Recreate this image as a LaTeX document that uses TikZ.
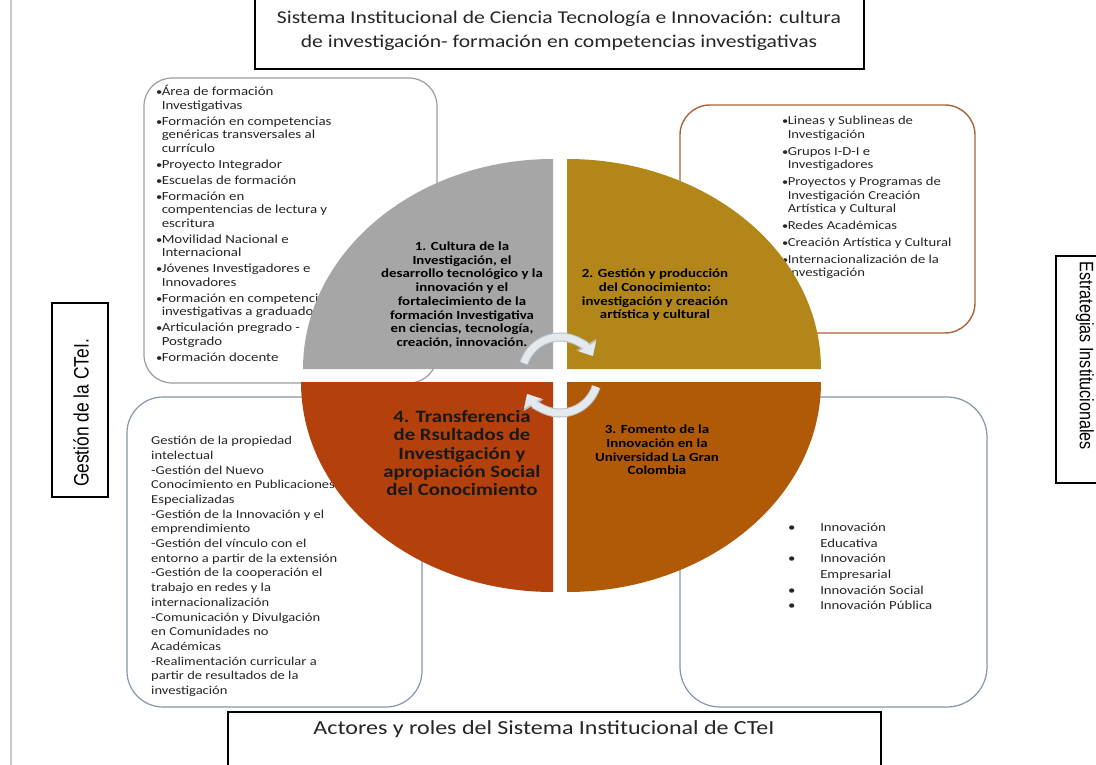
\documentclass[tikz,border=0pt]{standalone}
\usepackage{fontspec}
\setmainfont{Carlito}
\newfontfamily\arialf{Liberation Sans}
\usetikzlibrary{arrows.meta}
\definecolor{qgray}{HTML}{A6A6A6}
\definecolor{qgold}{HTML}{B38619}
\definecolor{qorange}{HTML}{B05A08}
\definecolor{qred}{HTML}{B4400C}
\definecolor{cyccol}{HTML}{E4E9ED}
\definecolor{cycline}{HTML}{B8C0C8}
\definecolor{bordgray}{HTML}{9C9C9C}
\definecolor{bordbrown}{HTML}{A8643A}
\definecolor{bordblue}{HTML}{8595AE}
\definecolor{leftline}{HTML}{C8C8C8}
\definecolor{txtc}{HTML}{262626}
\newcommand\bl{\makebox[4.6pt][l]{\scalebox{0.85}{•}}}
\newcommand\ind{\hspace*{4.6pt}}
\newcommand\bbl{\makebox[26.7pt][l]{•}}
\newcommand\bind{\hspace*{26.7pt}}
\begin{document}
\begin{tikzpicture}[x=1pt,y=-1pt,
  txt/.style={inner sep=0pt, xscale=1.2, text=txtc},
  boxtxt/.style={txt, align=left, anchor=north west},
  qtxt/.style={txt, align=center, text=black, font={\bfseries\fontsize{12.4}{13.7}\selectfont}},
  framebox/.style={draw=black, line width=1.1pt},
  cycout/.style={draw=cycline, line width=9pt, -{Triangle[width=22pt,length=13pt]}},
  cyca/.style={draw=cyccol, line width=7pt, -{Triangle[width=19pt,length=11pt]}}]
\useasboundingbox (0,0) rectangle (1096,765);
\fill[white] (0,0) rectangle (1096,765);
% left page line
\draw[leftline, line width=2pt] (11,0) -- (11,765);
% title boxes
\draw[framebox] (255,-5) rectangle (864,69);
\node[txt, align=center, font={\fontsize{18}{23.5}\selectfont}] (title) at (559,31)
  {Sistema Institucional de Ciencia Tecnología e Innovación: cultura\\de investigación- formación en competencias investigativas};
\draw[framebox] (228,712) rectangle (881,770);
\node[txt, font={\fontsize{20}{24}\selectfont}] (actores) at (544,729) {Actores y roles del Sistema Institucional de CTeI};
% side boxes
\draw[framebox] (52,303) rectangle (108,497);
\node[inner sep=0pt, xscale=1.2, rotate=90, font={\arialf\fontsize{17.4}{20}\selectfont}] (gest) at (81,413) {Gestión de la CTeI.};
\draw[framebox] (1056,256) rectangle (1100,483);
\node[inner sep=0pt, xscale=1.2, rotate=-90, font={\arialf\fontsize{16.2}{19}\selectfont}] (estr) at (1085,356) {Estrategias Institucionales};
% rounded boxes
\draw[bordgray, line width=1.2pt, rounded corners=28pt] (144,78) rectangle (437,383);
\draw[bordbrown, line width=1.4pt, rounded corners=30pt] (680,105) rectangle (975,333);
\draw[bordblue, line width=1.2pt, rounded corners=36pt] (127,397) rectangle (422,707);
\draw[bordblue, line width=1.2pt, rounded corners=40pt] (680,397) rectangle (987,707);
% box texts
\node[boxtxt, font={\fontsize{12.4}{13.5}\selectfont}] (tltext) at (156,85) {%
\bl Área de formación\\ \ind Investigativas\\[2.5pt]
\bl Formación en competencias\\ \ind genéricas transversales al\\ \ind currículo\\[2.5pt]
\bl Proyecto Integrador\\[2.5pt]
\bl Escuelas de formación\\[2.5pt]
\bl Formación en\\ \ind compentencias de lectura y\\ \ind escritura\\[2.5pt]
\bl Movilidad Nacional e\\ \ind Internacional\\[2.5pt]
\bl Jóvenes Investigadores e\\ \ind Innovadores\\[2.5pt]
\bl Formación en competencias\\ \ind investigativas a graduados\\[2.5pt]
\bl Articulación pregrado -\\ \ind Postgrado\\[2.5pt]
\bl Formación docente};
\node[boxtxt, font={\fontsize{12.2}{13.6}\selectfont}] (trtext) at (782,116) {%
\bl Lineas y  Sublineas de\\ \ind Investigación\\[3.2pt]
\bl Grupos I-D-I e\\ \ind Investigadores\\[3.2pt]
\bl Proyectos y Programas de\\ \ind Investigación Creación\\ \ind Artística y Cultural\\[3.2pt]
\bl Redes Académicas\\[3.2pt]
\bl Creación Artística y Cultural\\[3.2pt]
\bl Internacionalización de la\\ \ind Investigación};
\node[boxtxt, font={\fontsize{12.1}{14.7}\selectfont}] (bltext) at (151,436) {%
Gestión de la propiedad\\ intelectual\\ -Gestión del Nuevo\\ Conocimiento en Publicaciones\\ Especializadas\\
-Gestión de la Innovación y el\\ emprendimiento\\ -Gestión del vínculo con el\\ entorno a partir de la extensión\\
-Gestión de la cooperación el\\ trabajo en redes y la\\ internacionalización\\ -Comunicación y Divulgación\\
en Comunidades no\\ Académicas\\ -Realimentación curricular a\\ partir de resultados de la\\ investigación};
\node[boxtxt, font={\fontsize{12.3}{15.6}\selectfont}] (brtext) at (788,523) {%
\bbl Innovación\\ \bind Educativa\\ \bbl Innovación\\ \bind Empresarial\\ \bbl Innovación Social\\ \bbl Innovación Pública};
% quadrants
\fill[qgray] (553,369) -- (303,369) arc[start angle=180, end angle=270, x radius=250, y radius=210] -- cycle;
\fill[qgold] (567,369) -- (567,159) arc[start angle=270, end angle=360, x radius=254, y radius=210] -- cycle;
\fill[qorange] (567,382) -- (821,382) arc[start angle=0, end angle=90, x radius=254, y radius=210] -- cycle;
\fill[qred] (553,382) -- (553,592) arc[start angle=90, end angle=180, x radius=252, y radius=210] -- cycle;
% quadrant texts
\node[qtxt] (q1) at (462,295) {1. Cultura de la\\Investigación, el\\desarrollo tecnológico y la\\innovación y el\\fortalecimiento de la\\formación Investigativa\\en ciencias, tecnología,\\creación, innovación.};
\node[qtxt] (q2) at (655,295) {2. Gestión y producción\\del Conocimiento:\\investigación y creación\\artística y cultural};
\node[qtxt] (q3) at (657,450) {3. Fomento de la\\Innovación en la\\Universidad La Gran\\Colombia};
\node[qtxt, text=black!90, font={\bfseries\fontsize{17.3}{18.2}\selectfont}] (q4) at (462,453) {4. Transferencia\\de Rsultados de\\Investigación y\\apropiación Social\\del Conocimiento};
% cycle arrows
\coordinate (cyc) at (560,375);
\draw[cycout] (cyc) ++(198:38) arc[start angle=198, end angle=330, radius=38];
\draw[cyca] (cyc) ++(198:38) arc[start angle=198, end angle=330, radius=38];
\draw[cycout] (cyc) ++(18:38) arc[start angle=18, end angle=150, radius=38];
\draw[cyca] (cyc) ++(18:38) arc[start angle=18, end angle=150, radius=38];
\end{tikzpicture}
\end{document}
